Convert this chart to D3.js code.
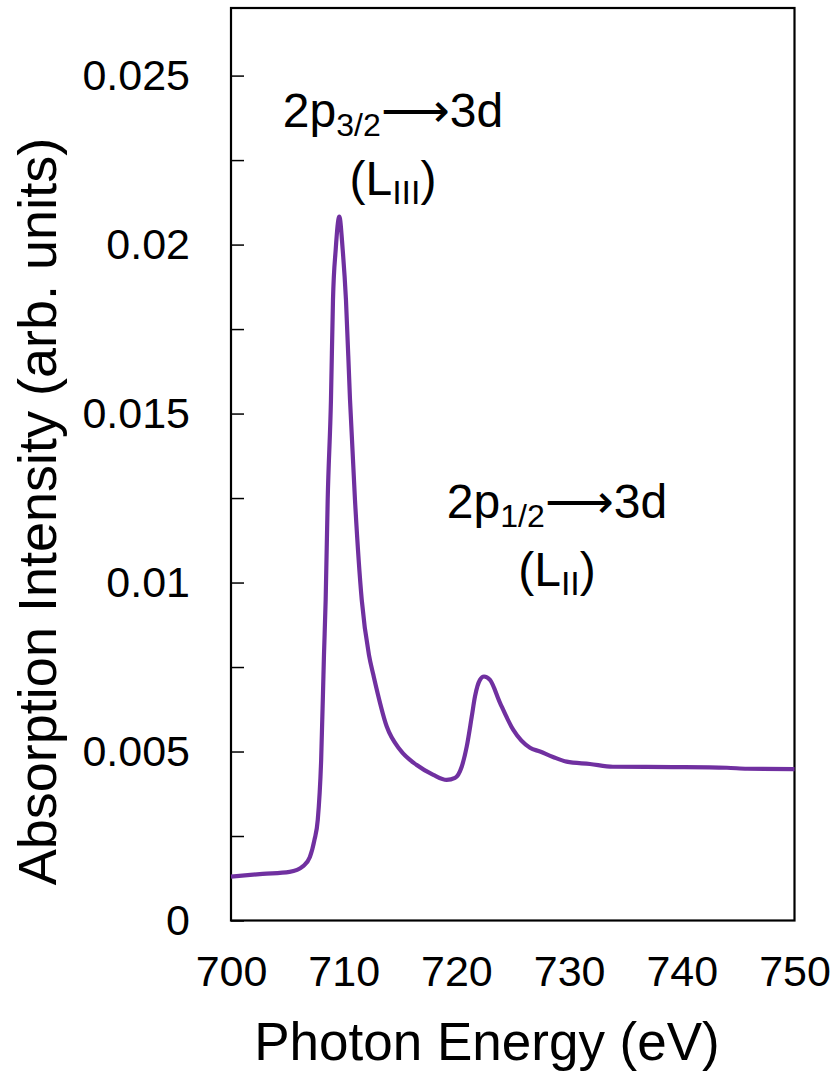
<!DOCTYPE html>
<html>
<head>
<meta charset="utf-8">
<script src="https://cdn.jsdelivr.net/npm/d3@7"></script>
<style>
  body { margin: 0; background: #fff; }
  svg { display: block; font-family: "Liberation Sans", Arial, sans-serif; }
</style>
</head>
<body>
<svg id="chart" width="836" height="1075"></svg>
<script>
// photon energy (eV) and absorption intensity
const energy = [700, 702.8, 705.2, 706.4, 707.0, 707.4, 707.7, 708.0, 708.25, 708.4, 708.58, 708.87,
  709.05, 709.29, 709.61, 709.91, 710.2, 710.56, 711.0, 711.6, 712.24, 712.63, 713.82, 715.0,
  716.48, 717.95, 719.14, 719.88, 720.47, 720.92, 721.36, 721.65, 722.09, 722.45, 722.98,
  723.87, 725.05, 726.53, 727.42, 728.57, 729.78, 731.85, 733.89, 739.22, 744.0, 745.8, 750];
const intensity = [0.0013, 0.00138, 0.00144, 0.00161, 0.00188, 0.00238, 0.00298, 0.00475, 0.00786,
  0.00949, 0.01245, 0.01541, 0.01837, 0.01985, 0.02083, 0.01985, 0.01837, 0.01541, 0.01245,
  0.00949, 0.00786, 0.00727, 0.00574, 0.00505, 0.0046, 0.00431, 0.00416, 0.00422, 0.00455,
  0.00515, 0.00603, 0.00663, 0.00712, 0.00722, 0.00712, 0.00644, 0.00564, 0.00511, 0.005,
  0.00484, 0.0047, 0.00463, 0.00455, 0.00454, 0.00452, 0.00449, 0.00448];

const xTicks = [700, 710, 720, 730, 740, 750];
const yTicks = [0, 0.0025, 0.005, 0.0075, 0.01, 0.0125, 0.015, 0.0175, 0.02, 0.0225, 0.025];
const yTickLabels = ["0", "", "0.005", "", "0.01", "", "0.015", "", "0.02", "", "0.025"];

const svg = d3.select("#chart");
const margin = { top: 8, right: 41.5, bottom: 154.5, left: 231 };
const width = 836 - margin.left - margin.right;
const height = 1075 - margin.top - margin.bottom;

const x = d3.scaleLinear().domain([700, 750]).range([margin.left, margin.left + width]);
const y = d3.scaleLinear().domain([0, 0.027]).range([margin.top + height, margin.top]);

// y axis with inward ticks, labels only on the major ones
const yAxis = d3.axisLeft(y)
  .tickValues(yTicks)
  .tickSizeInner(-13)
  .tickSizeOuter(0)
  .tickPadding(41)
  .tickFormat((d, i) => yTickLabels[i]);
const gy = svg.append("g").attr("transform", `translate(${margin.left},0)`).call(yAxis);
gy.select(".domain").remove();
gy.selectAll(".tick line").attr("stroke", "#000").attr("stroke-width", 1.5);
gy.selectAll(".tick text").attr("font-size", 43).attr("fill", "#000").attr("font-family", "Liberation Sans, Arial, sans-serif");

const xAxis = d3.axisBottom(x).tickValues(xTicks).tickSize(0).tickPadding(35).tickFormat(d3.format("d"));
const gx = svg.append("g").attr("transform", `translate(0,${margin.top + height})`).call(xAxis);
gx.select(".domain").remove();
gx.selectAll(".tick text").attr("font-size", 43).attr("fill", "#000").attr("font-family", "Liberation Sans, Arial, sans-serif");

// frame
svg.append("rect")
  .attr("x", margin.left).attr("y", margin.top)
  .attr("width", width).attr("height", height)
  .attr("fill", "none").attr("stroke", "#000").attr("stroke-width", 2.2);

// spectrum
const line = d3.line().x((d, i) => x(energy[i])).y(d => y(d)).curve(d3.curveMonotoneX);
svg.append("path")
  .datum(intensity)
  .attr("d", line)
  .attr("fill", "none")
  .attr("stroke", "#7030A0")
  .attr("stroke-width", 4.2)
  .attr("stroke-linejoin", "round");

// axis titles
svg.append("text")
  .attr("x", 487).attr("y", 1060)
  .attr("text-anchor", "middle").attr("font-size", 53)
  .text("Photon Energy (eV)");
svg.append("text")
  .attr("transform", `translate(56,${y(0.0121)}) rotate(-90)`)
  .attr("text-anchor", "middle").attr("font-size", 54)
  .text("Absorption Intensity (arb. units)");

// peak annotations
function label(cx, cy, sub, level) {
  const t1 = svg.append("text").attr("x", cx).attr("y", cy).attr("text-anchor", "middle").attr("font-size", 48);
  t1.append("tspan").text("2p");
  t1.append("tspan").attr("font-size", 32).attr("dy", 9).text(sub);
  t1.append("tspan").attr("dy", -9).text("\u27F6");
  t1.append("tspan").text("3d");
  const t2 = svg.append("text").attr("x", cx).attr("y", cy + 68).attr("text-anchor", "middle").attr("font-size", 48);
  t2.append("tspan").text("(L");
  t2.append("tspan").attr("font-size", 34).attr("dy", 9).text(level);
  t2.append("tspan").attr("dy", -9).text(")");
}
label(393, 127, "3/2", "III");
label(557, 518, "1/2", "II");
</script>
</body>
</html>
